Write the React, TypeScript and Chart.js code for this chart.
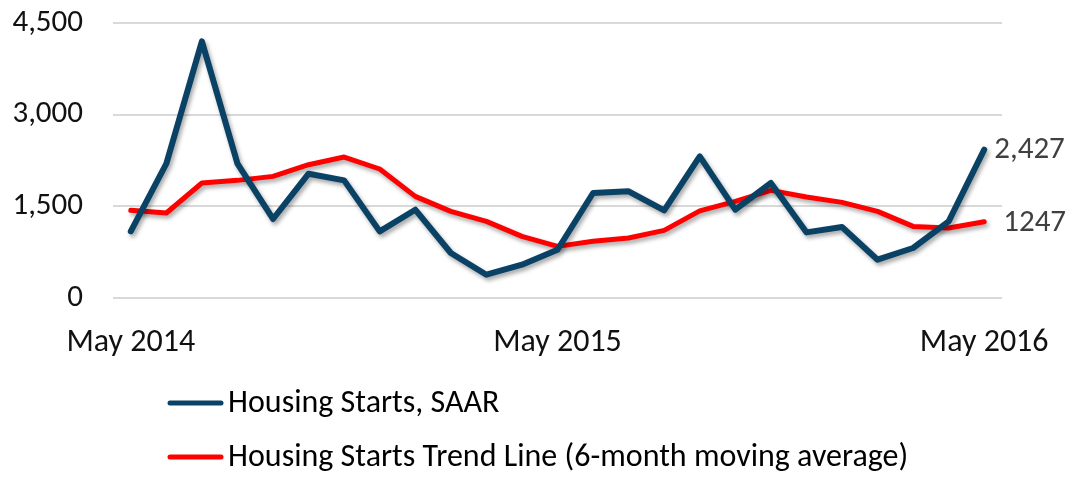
import React, { useEffect, useRef } from "react";
import { Chart, registerables } from "chart.js";

Chart.register(...registerables);

const categories = [
  "May 2014", "Jun 2014", "Jul 2014", "Aug 2014", "Sep 2014", "Oct 2014",
  "Nov 2014", "Dec 2014", "Jan 2015", "Feb 2015", "Mar 2015", "Apr 2015",
  "May 2015", "Jun 2015", "Jul 2015", "Aug 2015", "Sep 2015", "Oct 2015",
  "Nov 2015", "Dec 2015", "Jan 2016", "Feb 2016", "Mar 2016", "Apr 2016",
  "May 2016",
];

const tickLabelMonths = ["May 2014", "May 2015", "May 2016"];

const housingStarts = [
  1090, 2198, 4199, 2198, 1293, 2034, 1925, 1090, 1445, 736, 381, 545,
  790, 1718, 1745, 1434, 2318, 1445, 1882, 1074, 1162, 627, 818, 1254, 2427,
];

const trendLine = [
  1434, 1391, 1882, 1925, 1990, 2181, 2307, 2111, 1663, 1418, 1254, 1008,
  845, 927, 982, 1106, 1425, 1581, 1761, 1653, 1565, 1418, 1172, 1145, 1247,
];

const seriesNames = [
  "Housing Starts, SAAR",
  "Housing Starts Trend Line (6-month moving average)",
];

const endLabels = ["2,427", "1247"];

const yTicks = [0, 1500, 3000, 4500];

const FONT = "Carlito, 'Liberation Sans Narrow', 'DejaVu Sans Condensed', 'Noto Sans', sans-serif";
const BLUE = "#0A4265";
const RED = "#FF0000";

const shadowPlugin = {
  id: "lineShadow",
  beforeDatasetDraw(chart: any) {
    const ctx = chart.ctx;
    ctx.save();
    ctx.shadowColor = "rgba(0,0,0,0.35)";
    ctx.shadowBlur = 4;
    ctx.shadowOffsetX = 2;
    ctx.shadowOffsetY = 3;
  },
  afterDatasetDraw(chart: any) {
    chart.ctx.restore();
  },
};

const endLabelPlugin = {
  id: "endLabels",
  afterDatasetsDraw(chart: any) {
    const ctx = chart.ctx;
    const offsets = [10, 19];
    ctx.save();
    ctx.font = `31px ${FONT}`;
    ctx.fillStyle = "#404040";
    ctx.textAlign = "left";
    ctx.textBaseline = "middle";
    chart.data.datasets.forEach((_ds: any, i: number) => {
      const meta = chart.getDatasetMeta(i);
      const pt = meta.data[meta.data.length - 1];
      if (!pt) return;
      ctx.fillText(endLabels[i], pt.x + offsets[i], pt.y + 1);
    });
    ctx.restore();
  },
};

const legendPlugin = {
  id: "stackedLegend",
  afterDraw(chart: any) {
    const ctx = chart.ctx;
    const rows = [403, 457];
    ctx.save();
    chart.data.datasets.forEach((ds: any, i: number) => {
      const y = rows[i];
      ctx.strokeStyle = ds.borderColor;
      ctx.lineWidth = 5;
      ctx.lineCap = "round";
      ctx.beginPath();
      ctx.moveTo(170, y);
      ctx.lineTo(221, y);
      ctx.stroke();
      ctx.font = `32px ${FONT}`;
      ctx.fillStyle = "#000000";
      ctx.textAlign = "left";
      ctx.textBaseline = "middle";
      ctx.fillText(ds.label, 228, y + 1);
    });
    ctx.restore();
  },
};

export default function App() {
  const canvasRef = useRef<HTMLCanvasElement | null>(null);

  useEffect(() => {
    if (!canvasRef.current) return;
    const chart = new Chart(canvasRef.current, {
      type: "line",
      data: {
        labels: categories,
        datasets: [
          {
            label: seriesNames[0],
            data: housingStarts,
            borderColor: BLUE,
            backgroundColor: BLUE,
            borderWidth: 6,
            pointRadius: 0,
            tension: 0,
            borderJoinStyle: "round",
            borderCapStyle: "round",
          },
          {
            label: seriesNames[1],
            data: trendLine,
            borderColor: RED,
            backgroundColor: RED,
            borderWidth: 5,
            pointRadius: 0,
            tension: 0,
            borderJoinStyle: "round",
            borderCapStyle: "round",
          },
        ],
      },
      options: {
        responsive: false,
        animation: false,
        devicePixelRatio: 1,
        layout: { padding: { left: 0, top: 0, right: 72, bottom: 0 } },
        plugins: {
          legend: { display: false },
          tooltip: { enabled: false },
        },
        scales: {
          x: {
            type: "category",
            offset: true,
            grid: { display: false, drawTicks: false },
            border: { display: false },
            afterFit: (scale: any) => {
              scale.height = 181;
            },
            ticks: {
              autoSkip: false,
              maxRotation: 0,
              minRotation: 0,
              padding: 26,
              color: "#111111",
              font: { family: FONT, size: 32 },
              callback: function (this: any, _v: any, index: number) {
                const lbl = categories[index];
                return tickLabelMonths.includes(lbl) ? lbl : "";
              },
            },
          },
          y: {
            min: 0,
            max: 4500,
            afterFit: (scale: any) => {
              scale.width = 113;
              scale.paddingTop = 23;
              scale.paddingBottom = 0;
            },
            afterBuildTicks: (scale: any) => {
              scale.ticks = yTicks.map((v) => ({ value: v }));
            },
            grid: { color: "#d9d9d9", lineWidth: 2, drawTicks: false },
            border: { display: false },
            ticks: {
              padding: 30,
              color: "#111111",
              font: { family: FONT, size: 31 },
              callback: (v: any) => Number(v).toLocaleString("en-US"),
            },
          },
        },
      },
      plugins: [shadowPlugin, endLabelPlugin, legendPlugin],
    } as any);
    return () => chart.destroy();
  }, []);

  return (
    <div style={{ position: "fixed", left: 0, top: 0, width: 1076, height: 479, background: "#ffffff" }}>
      <canvas ref={canvasRef} width={1076} height={479} style={{ display: "block" }} />
    </div>
  );
}
